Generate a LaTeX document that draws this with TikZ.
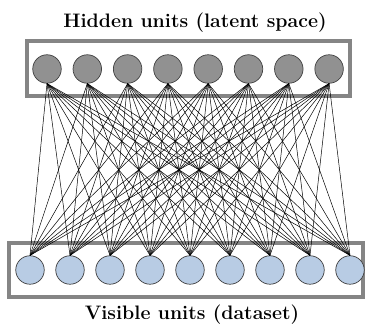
\documentclass[tikz,border=0pt]{standalone}
\begin{document}
\begin{tikzpicture}[x=1pt,y=-1pt,
  hidden/.style={circle,draw=black!75,fill=black!43,line width=0.7pt,minimum size=28.5pt,inner sep=0pt},
  visible/.style={circle,draw=black!75,fill={rgb,255:red,184;green,204;blue,228},line width=0.7pt,minimum size=28.5pt,inner sep=0pt},
  layerbox/.style={draw=black!48,line width=3.5pt},
  link/.style={black,line width=0.5pt},
  title/.style={font=\fontsize{19.5}{23}\selectfont\bfseries,anchor=base}]
\useasboundingbox (0,0) rectangle (368,326);
% layer frames
\draw[layerbox] (27,41) rectangle (350,96);
\draw[layerbox] (9,243) rectangle (363,297);
% hidden units
\foreach \i in {1,...,8}
  \node[hidden] (h\i) at ({47+40.3*(\i-1)},69) {};
% visible units
\foreach \j in {1,...,9}
  \node[visible] (v\j) at ({30+40*(\j-1)},270) {};
% full bipartite connections
\foreach \i in {1,...,8}
  \foreach \j in {1,...,9}
    \draw[link] (h\i.south) -- (v\j.north);
% labels
\node[title] (ht) at (195,28) {Hidden units (latent space)};
\node[title] (vt) at (192,320) {Visible units (dataset)};
\end{tikzpicture}
\end{document}
